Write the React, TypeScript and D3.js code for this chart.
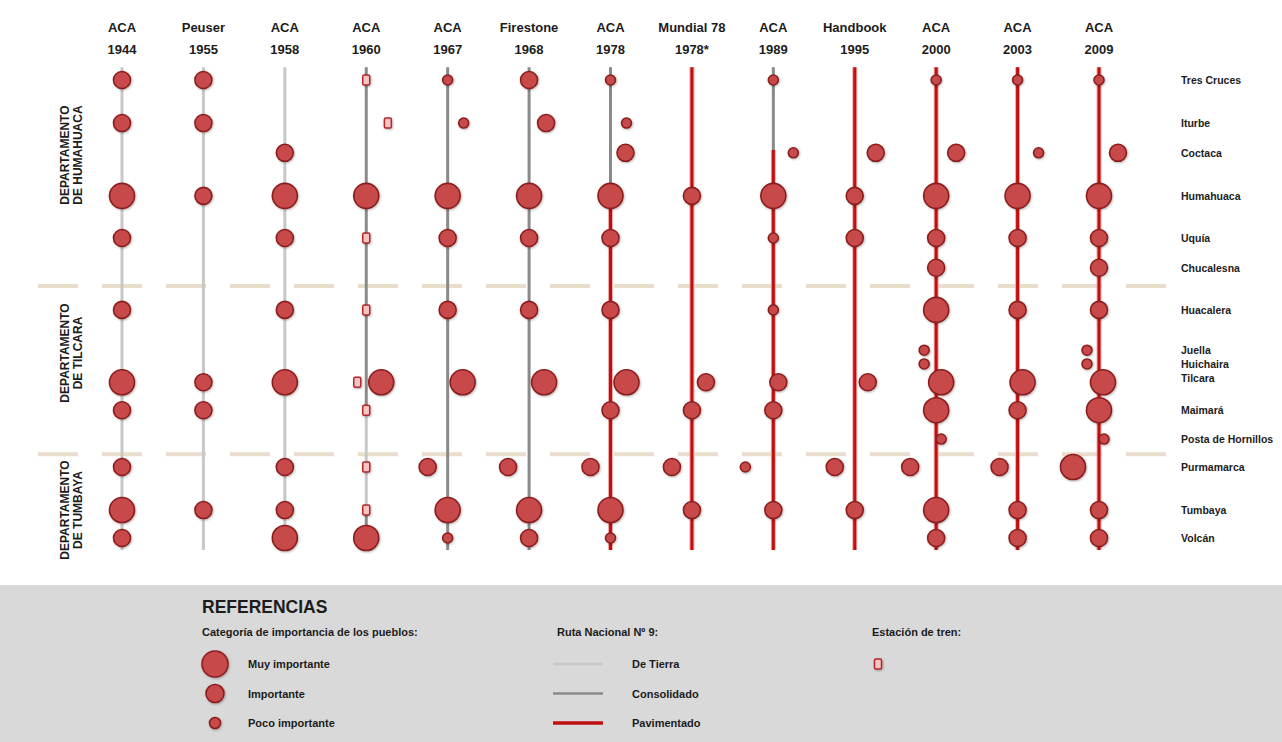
import React, { useEffect, useRef } from 'react';
import * as d3 from 'd3';

// column headers (source / year of the map)
const sources = ["ACA", "Peuser", "ACA", "ACA", "ACA", "Firestone", "ACA", "Mundial 78", "ACA", "Handbook", "ACA", "ACA", "ACA"];
const years = ["1944", "1955", "1958", "1960", "1967", "1968", "1978", "1978*", "1989", "1995", "2000", "2003", "2009"];

// towns along the route, top to bottom, with relative position (0 = Tres Cruces, 100 = Volcán)
const towns = ["Tres Cruces", "Iturbe", "Coctaca", "Humahuaca", "Uquía", "Chucalesna", "Huacalera", "Juella", "Huichaira", "Tilcara", "Maimará", "Posta de Hornillos", "Purmamarca", "Tumbaya", "Volcán"];
const townPos = [0, 9.4, 15.9, 25.3, 34.5, 41.0, 50.2, 59.0, 62.0, 66.0, 72.1, 78.4, 84.5, 93.9, 100];
const labelPos = [0, 9.4, 15.9, 25.3, 34.5, 41.0, 50.2, 59.0, 62.0, 65.0, 72.1, 78.4, 84.5, 93.9, 100];

const deptNames = ["DE HUMAHUACA", "DE TILCARA", "DE TUMBAYA"];
const deptPos = [16.4, 59.6, 93.9];
const separatorPos = [45.0, 81.7];

// road type segments per column: [from, to, type]
const roads: [number, number, string][][] = [
  [[-2.8, 102.6, "tierra"]],
  [[-2.8, 102.6, "tierra"]],
  [[-2.8, 102.6, "tierra"]],
  [[-2.8, 71, "cons"], [71, 95, "tierra"], [95, 102.6, "cons"]],
  [[-2.8, 102.6, "cons"]],
  [[-2.8, 102.6, "cons"]],
  [[-2.8, 25.3, "cons"], [25.3, 102.6, "pav"]],
  [[-2.8, 102.6, "pav"]],
  [[-2.8, 15.3, "cons"], [15.3, 102.6, "pav"]],
  [[-2.8, 102.6, "pav"]],
  [[-2.8, 102.6, "pav"]],
  [[-2.8, 102.6, "pav"]],
  [[-2.8, 102.6, "pav"]],
];

// towns per map: [town, category (L muy importante, M importante, S poco importante, T estación), side offset]
type Pt = [string, string, number];
const aca1944: Pt[] = [["Tres Cruces", "M", 0], ["Iturbe", "M", 0], ["Humahuaca", "L", 0], ["Uquía", "M", 0], ["Huacalera", "M", 0], ["Tilcara", "L", 0], ["Maimará", "M", 0], ["Purmamarca", "M", 0], ["Tumbaya", "L", 0], ["Volcán", "M", 0]];
const peuser1955: Pt[] = [["Tres Cruces", "M", 0], ["Iturbe", "M", 0], ["Humahuaca", "M", 0], ["Tilcara", "M", 0], ["Maimará", "M", 0], ["Tumbaya", "M", 0]];
const aca1958: Pt[] = [["Coctaca", "M", 0], ["Humahuaca", "L", 0], ["Uquía", "M", 0], ["Huacalera", "M", 0], ["Tilcara", "L", 0], ["Purmamarca", "M", 0], ["Tumbaya", "M", 0], ["Volcán", "L", 0]];
const aca1960: Pt[] = [["Tres Cruces", "T", 0], ["Iturbe", "T", 1.08], ["Humahuaca", "L", 0], ["Uquía", "T", 0], ["Huacalera", "T", 0], ["Tilcara", "T", -0.45], ["Tilcara", "L", 0.75], ["Maimará", "T", 0], ["Purmamarca", "T", 0], ["Tumbaya", "T", 0], ["Volcán", "L", 0]];
const aca1967: Pt[] = [["Tres Cruces", "S", 0], ["Iturbe", "S", 0.8], ["Humahuaca", "L", 0], ["Uquía", "M", 0], ["Huacalera", "M", 0], ["Tilcara", "L", 0.75], ["Purmamarca", "M", -1], ["Tumbaya", "L", 0], ["Volcán", "S", 0]];
const firestone1968: Pt[] = [["Tres Cruces", "M", 0], ["Iturbe", "M", 0.85], ["Humahuaca", "L", 0], ["Uquía", "M", 0], ["Huacalera", "M", 0], ["Tilcara", "L", 0.75], ["Purmamarca", "M", -1.05], ["Tumbaya", "L", 0], ["Volcán", "M", 0]];
const aca1978: Pt[] = [["Tres Cruces", "S", 0], ["Iturbe", "S", 0.8], ["Coctaca", "M", 0.75], ["Humahuaca", "L", 0], ["Uquía", "M", 0], ["Huacalera", "M", 0], ["Tilcara", "L", 0.8], ["Maimará", "M", 0], ["Purmamarca", "M", -1], ["Tumbaya", "L", 0], ["Volcán", "S", 0]];
const mundial1978: Pt[] = [["Humahuaca", "M", 0], ["Tilcara", "M", 0.7], ["Maimará", "M", 0], ["Purmamarca", "M", -1], ["Tumbaya", "M", 0]];
const aca1989: Pt[] = [["Tres Cruces", "S", 0], ["Coctaca", "S", 1], ["Humahuaca", "L", 0], ["Uquía", "S", 0], ["Huacalera", "S", 0], ["Tilcara", "M", 0.25], ["Maimará", "M", 0], ["Purmamarca", "S", -1.4], ["Tumbaya", "M", 0]];
const handbook1995: Pt[] = [["Coctaca", "M", 1.05], ["Humahuaca", "M", 0], ["Uquía", "M", 0], ["Tilcara", "M", 0.65], ["Purmamarca", "M", -1], ["Tumbaya", "M", 0]];
const aca2000: Pt[] = [["Tres Cruces", "S", 0], ["Coctaca", "M", 1], ["Humahuaca", "L", 0], ["Uquía", "M", 0], ["Chucalesna", "M", 0], ["Huacalera", "L", 0], ["Juella", "S", -0.6], ["Huichaira", "S", -0.6], ["Tilcara", "L", 0.25], ["Maimará", "L", 0], ["Posta de Hornillos", "S", 0.25], ["Purmamarca", "M", -1.3], ["Tumbaya", "L", 0], ["Volcán", "M", 0]];
const aca2003: Pt[] = [["Tres Cruces", "S", 0], ["Coctaca", "S", 1.05], ["Humahuaca", "L", 0], ["Uquía", "M", 0], ["Huacalera", "M", 0], ["Tilcara", "L", 0.25], ["Maimará", "M", 0], ["Purmamarca", "M", -0.9], ["Tumbaya", "M", 0], ["Volcán", "M", 0]];
const aca2009: Pt[] = [["Tres Cruces", "S", 0], ["Coctaca", "M", 0.95], ["Humahuaca", "L", 0], ["Uquía", "M", 0], ["Chucalesna", "M", 0], ["Huacalera", "M", 0], ["Juella", "S", -0.6], ["Huichaira", "S", -0.6], ["Tilcara", "L", 0.2], ["Maimará", "L", 0], ["Posta de Hornillos", "S", 0.25], ["Purmamarca", "L", -1.3], ["Tumbaya", "M", 0], ["Volcán", "M", 0]];
const columnPoints = [aca1944, peuser1955, aca1958, aca1960, aca1967, firestone1968, aca1978, mundial1978, aca1989, handbook1995, aca2000, aca2003, aca2009];

// legend
const categoryLabels = ["Muy importante", "Importante", "Poco importante"];
const categoryKeys = ["L", "M", "S"];
const roadLabels = ["De Tierra", "Consolidado", "Pavimentado"];
const roadKeys = ["tierra", "cons", "pav"];

const FONT = "'Liberation Sans', Arial, Helvetica, sans-serif";
const TEXT = "#1c1c1c";
const DOT_FILL = "#c84a4a";
const DOT_STROKE = "#8c1f1f";

const App: React.FC = () => {
  const svgRef = useRef<SVGSVGElement>(null);

  useEffect(() => {
    if (!svgRef.current) return;
    document.body.style.margin = "0";

    const svg = d3.select(svgRef.current);
    svg.selectAll("*").remove();

    const W = 1282;
    const x = d3.scalePoint<number>().domain(d3.range(years.length)).range([122, 1099]);
    const y = d3.scaleLinear().domain([0, 100]).range([80, 538]);
    const off = d3.scaleLinear().domain([-1, 1]).range([-20, 20]);
    const radius = d3.scaleOrdinal<string, number>().domain(categoryKeys).range([12.5, 8.5, 5]);
    const roadColor = d3.scaleOrdinal<string, string>().domain(roadKeys).range(["#c8c8c8", "#8a8a8a", "#c10f0f"]);
    const townY = (t: string) => y(townPos[towns.indexOf(t)]);

    const defs = svg.append("defs");
    const f = defs.append("filter").attr("id", "sh").attr("x", "-50%").attr("y", "-50%").attr("width", "200%").attr("height", "200%");
    f.append("feDropShadow").attr("dx", 0.8).attr("dy", 1).attr("stdDeviation", 0.9)
      .attr("flood-color", "#000").attr("flood-opacity", 0.3);

    svg.append("rect").attr("width", W).attr("height", 742).attr("fill", "#fff");

    // department separators
    svg.append("g").selectAll("line")
      .data(separatorPos)
      .join("line")
      .attr("x1", 38).attr("x2", 1166)
      .attr("y1", d => y(d)).attr("y2", d => y(d))
      .attr("stroke", "#e9ddcc").attr("stroke-width", 4)
      .attr("stroke-dasharray", "40 24");

    // road lines per column (paved ones get a faint pink edge)
    const roadG = svg.append("g");
    roads.forEach((segs, i) => {
      roadG.selectAll(null)
        .data(segs.filter(s => s[2] === "pav"))
        .join("line")
        .attr("x1", x(i)!).attr("x2", x(i)!)
        .attr("y1", d => y(d[0])).attr("y2", d => y(d[1]))
        .attr("stroke", "#f1a9a9")
        .attr("stroke-width", 5);
      roadG.selectAll(null)
        .data(segs)
        .join("line")
        .attr("x1", x(i)!).attr("x2", x(i)!)
        .attr("y1", d => y(d[0])).attr("y2", d => y(d[1]))
        .attr("stroke", d => roadColor(d[2]))
        .attr("stroke-width", 3);
    });

    // headers
    const head = svg.append("g")
      .attr("font-family", FONT).attr("font-weight", "bold").attr("font-size", 13)
      .attr("fill", TEXT).attr("text-anchor", "middle");
    head.selectAll(".src").data(sources).join("text")
      .attr("x", (_, i) => x(i)!).attr("y", 32).text(d => d);
    head.selectAll(".yr").data(years).join("text")
      .attr("x", (_, i) => x(i)!).attr("y", 54).text(d => d);

    // towns
    const dotG = svg.append("g");
    columnPoints.forEach((pts, i) => {
      const cx = x(i)!;
      const circles = pts.filter(p => p[1] !== "T");
      const stations = pts.filter(p => p[1] === "T");
      dotG.selectAll(null).data(circles).join("circle")
        .attr("cx", d => cx + off(d[2]))
        .attr("cy", d => townY(d[0]))
        .attr("r", d => radius(d[1]))
        .attr("fill", DOT_FILL).attr("stroke", DOT_STROKE).attr("stroke-width", 1.6)
        .attr("filter", "url(#sh)");
      dotG.selectAll(null).data(stations).join("rect")
        .attr("x", d => cx + off(d[2]) - 3.5)
        .attr("y", d => townY(d[0]) - 5)
        .attr("width", 7).attr("height", 10).attr("rx", 1.5)
        .attr("fill", "#f7c4c4").attr("stroke", "#b3262b").attr("stroke-width", 1.5)
        .attr("filter", "url(#sh)");
    });

    // town names
    svg.append("g")
      .attr("font-family", FONT).attr("font-weight", "bold").attr("font-size", 10.5).attr("fill", TEXT)
      .selectAll("text").data(towns).join("text")
      .attr("x", 1181)
      .attr("y", (_, i) => y(labelPos[i]) + 4)
      .text(d => d);

    // department labels
    const dept = svg.append("g")
      .attr("font-family", FONT).attr("font-weight", "bold").attr("font-size", 12).attr("fill", TEXT)
      .attr("text-anchor", "middle");
    deptNames.forEach((name, i) => {
      const g = dept.append("g").attr("transform", `translate(72,${y(deptPos[i])}) rotate(-90)`);
      g.append("text").attr("x", 0).attr("y", -3).text("DEPARTAMENTO");
      g.append("text").attr("x", 0).attr("y", 10).text(name);
    });

    // legend
    const lg = svg.append("g").attr("font-family", FONT).attr("font-weight", "bold").attr("fill", TEXT);
    lg.append("rect").attr("x", 0).attr("y", 585).attr("width", W).attr("height", 157).attr("fill", "#d9d9d9");
    lg.append("text").attr("x", 202).attr("y", 613).attr("font-size", 17.5).text("REFERENCIAS");
    lg.append("text").attr("x", 202).attr("y", 636).attr("font-size", 11).text("Categoría de importancia de los pueblos:");
    lg.append("text").attr("x", 557).attr("y", 636).attr("font-size", 11).text("Ruta Nacional Nº 9:");
    lg.append("text").attr("x", 872).attr("y", 636).attr("font-size", 11).text("Estación de tren:");

    const rowY = d3.scalePoint<number>().domain([0, 1, 2]).range([664, 723]);
    lg.selectAll(".lc").data(categoryKeys).join("circle")
      .attr("cx", 215).attr("cy", (_, i) => rowY(i)!)
      .attr("r", d => d === "L" ? 13 : d === "M" ? 9 : 5.5)
      .attr("fill", DOT_FILL).attr("stroke", DOT_STROKE).attr("stroke-width", 1.6)
      .attr("filter", "url(#sh)");
    lg.selectAll(".lct").data(categoryLabels).join("text")
      .attr("x", 248).attr("y", (_, i) => rowY(i)! + 4).attr("font-size", 11).text(d => d);

    lg.selectAll(".ll").data(roadKeys).join("line")
      .attr("x1", 553).attr("x2", 603)
      .attr("y1", (_, i) => rowY(i)!).attr("y2", (_, i) => rowY(i)!)
      .attr("stroke", d => roadColor(d)).attr("stroke-width", d => d === "pav" ? 3.5 : 2.5);
    lg.selectAll(".llt").data(roadLabels).join("text")
      .attr("x", 632).attr("y", (_, i) => rowY(i)! + 4).attr("font-size", 11).text(d => d);

    lg.append("rect")
      .attr("x", 874.5).attr("y", rowY(0)! - 5).attr("width", 7).attr("height", 10).attr("rx", 1.5)
      .attr("fill", "#f7c4c4").attr("stroke", "#b3262b").attr("stroke-width", 1.5)
      .attr("filter", "url(#sh)");
  }, []);

  return (
    <svg ref={svgRef} width={1282} height={742} style={{ display: "block" }}></svg>
  );
};

export default App;
